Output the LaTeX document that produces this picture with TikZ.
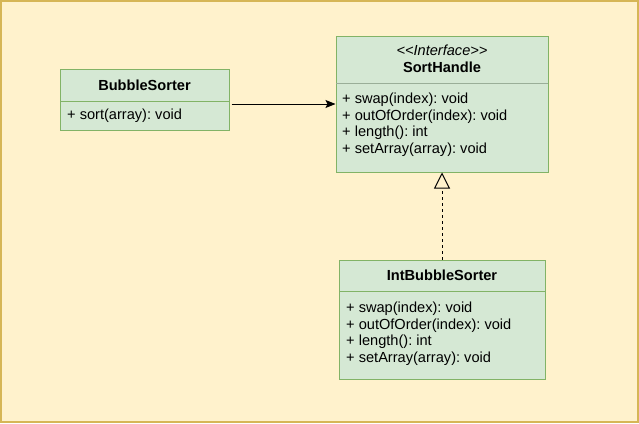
\documentclass[tikz,border=0pt]{standalone}
\usepackage{fontspec}
\setmainfont{Liberation Sans}
\frenchspacing
\usetikzlibrary{arrows.meta}
\definecolor{bgfill}{HTML}{FFF2CC}
\definecolor{bgline}{HTML}{D6B656}
\definecolor{clsfill}{HTML}{D5E8D4}
\definecolor{clsline}{HTML}{82B366}
\definecolor{divline}{HTML}{9AAE98}
\tikzset{
  classbox/.style={draw=clsline, fill=clsfill, line width=1pt, inner sep=0pt},
  title/.style={font=\fontsize{14.6}{16}\selectfont\bfseries\frenchspacing, inner sep=0pt},
  stereo/.style={font=\fontsize{14.6}{16}\selectfont\itshape\frenchspacing, inner sep=0pt},
  member/.style={font=\fontsize{14.6}{16.6}\selectfont\frenchspacing, inner sep=0pt, anchor=west, align=left},
  divider/.style={draw=clsline, line width=1pt},
}
\begin{document}
\begin{tikzpicture}[x=1pt,y=-1pt]
\useasboundingbox (0,0) rectangle (639,423);
\draw[fill=bgfill, draw=bgline, line width=2pt] (1,1) rectangle (638,422);
% BubbleSorter
\node[classbox, minimum width=169pt, minimum height=61pt] (bs) at (144.5,99.5) {};
\draw[divider] (60,101) -- (229,101);
\node[title] (bst) at (144.5,85) {BubbleSorter};
\node[member] (bsm) at (67,116) {+ sort(array): void};
% SortHandle
\node[classbox, minimum width=212pt, minimum height=136pt] (sh) at (442,104) {};
\draw[draw=divline, line width=1pt] (336,83) -- (548,83);
\node[stereo] (shs) at (442,50) {{<}{<}Interface{>}{>}};
\node[title] (sht) at (442,67) {SortHandle};
\node[member, anchor=north west] (shm) at (342,93) {+ swap(index): void\\+ outOfOrder(index): void\\+ length(): int\\+ setArray(array): void};
% IntBubbleSorter
\node[classbox, minimum width=206pt, minimum height=119pt] (ibs) at (442,319.5) {};
\draw[divider] (339,291) -- (545,291);
\node[title] (ibst) at (442,275) {IntBubbleSorter};
\node[member, anchor=north west] (ibsm) at (346,302) {+ swap(index): void\\+ outOfOrder(index): void\\+ length(): int\\+ setArray(array): void};
% connectors
\draw[line width=1pt, -{Stealth[length=10pt,width=8pt,inset=2pt]}] (bs.east |- sh.west) ++(2,0) -- (sh.west);
\draw[line width=1pt, dash pattern=on 3pt off 3pt, -{Triangle[open,length=16pt,width=16pt]}] (ibs.north) -- (sh.south);
\end{tikzpicture}
\end{document}
